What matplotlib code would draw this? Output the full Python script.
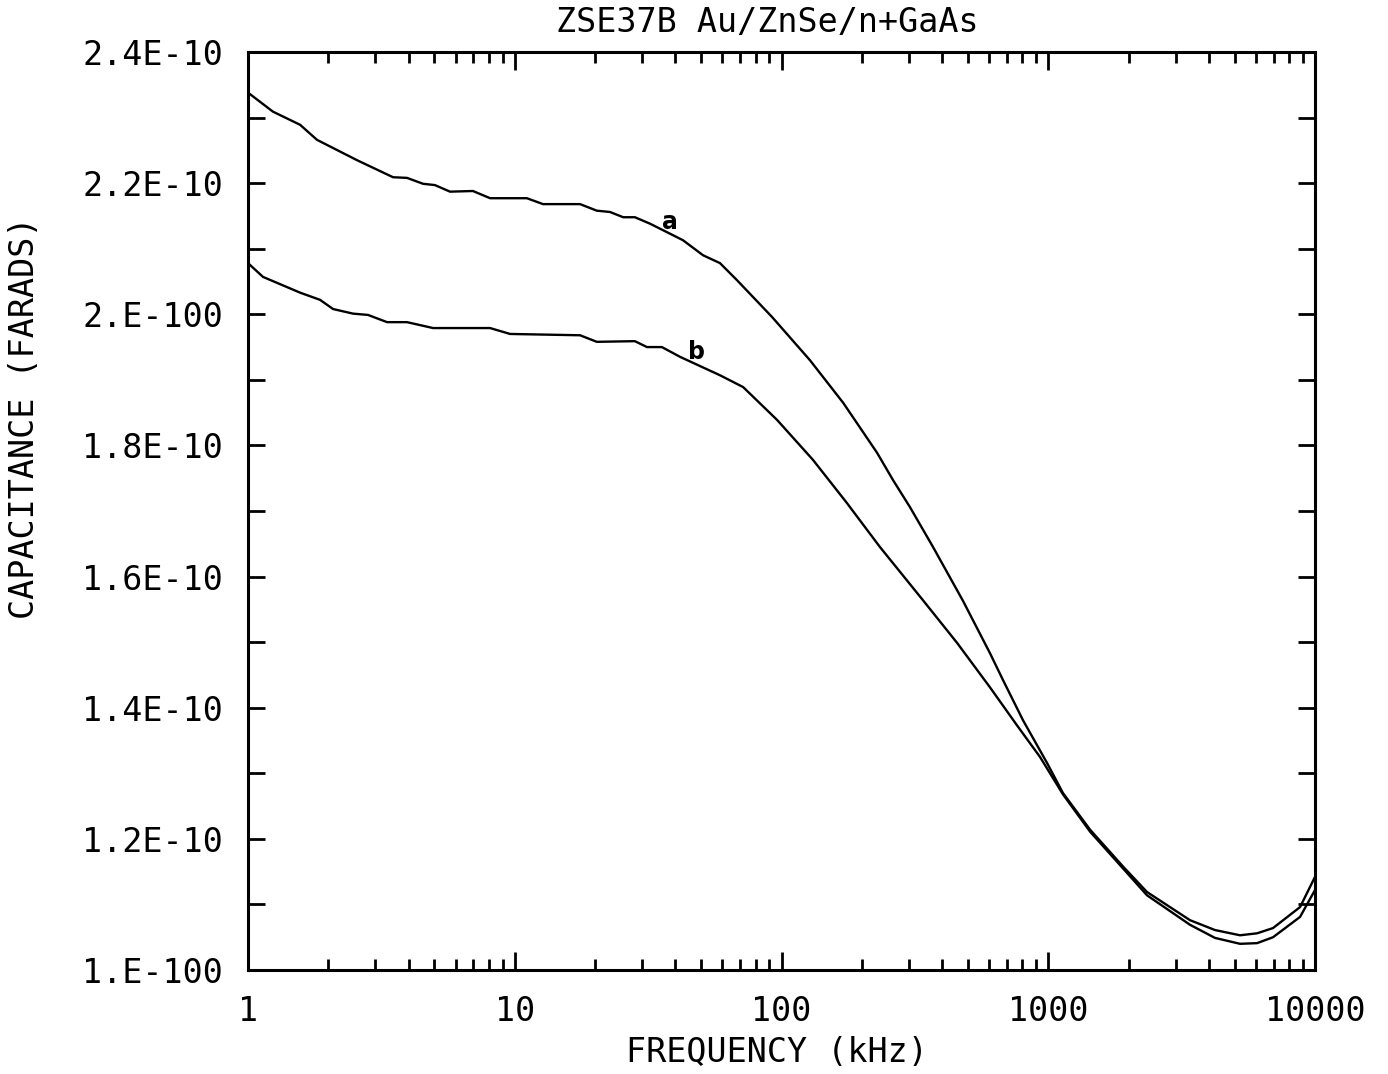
import numpy as np
import matplotlib
matplotlib.use('Agg')
import matplotlib.pyplot as plt
from matplotlib.ticker import FixedLocator, FixedFormatter, LogLocator, NullFormatter

# Curve a (kHz, capacitance in units of 1e-10 F)
freq_a = [1.0, 1.24, 1.567, 1.814, 2.562, 3.497, 3.945, 4.53, 5.02, 5.72, 6.97, 8.08,
          11.1, 12.76, 17.57, 20.3, 22.75, 25.5, 28.2, 32.2, 42.7, 50.8, 58.8, 68.1,
          92.1, 127.8, 170.3, 228, 262, 303, 370, 479, 605, 677, 804, 989, 1135, 1435,
          1906, 2345, 3400, 4217, 5235, 6064, 6960, 8790, 10000]
cap_a = [2.338, 2.309, 2.289, 2.266, 2.235, 2.209, 2.208, 2.199, 2.197, 2.187, 2.188, 2.177,
         2.177, 2.168, 2.168, 2.158, 2.156, 2.148, 2.148, 2.138, 2.113, 2.090, 2.078, 2.052,
         1.996, 1.930, 1.865, 1.789, 1.747, 1.706, 1.645, 1.563, 1.483, 1.442, 1.381, 1.316,
         1.270, 1.214, 1.158, 1.119, 1.076, 1.061, 1.053, 1.056, 1.064, 1.096, 1.142]

# Curve b
freq_b = [1.0, 1.138, 1.567, 1.862, 2.084, 2.475, 2.818, 3.32, 3.945, 4.94, 8.08, 9.6,
          17.57, 20.3, 28.2, 31.3, 35.6, 41.7, 58.8, 71.8, 96.2, 131.2, 176, 234, 339,
          455, 605, 764, 931, 1135, 1435, 1906, 2345, 3400, 4217, 5235, 6064, 6960, 8790,
          10000]
cap_b = [2.078, 2.057, 2.033, 2.022, 2.008, 2.001, 1.999, 1.988, 1.988, 1.979, 1.979, 1.970,
         1.968, 1.958, 1.959, 1.950, 1.950, 1.935, 1.907, 1.889, 1.839, 1.778, 1.712, 1.645,
         1.564, 1.499, 1.431, 1.373, 1.325, 1.268, 1.211, 1.155, 1.114, 1.069, 1.049, 1.040,
         1.041, 1.050, 1.081, 1.122]

x_ticks = [1, 10, 100, 1000, 10000]
x_ticklabels = ["1", "10", "100", "1000", "10000"]
y_ticks = [1.0, 1.2, 1.4, 1.6, 1.8, 2.0, 2.2, 2.4]
y_ticklabels = ["1.E-100", "1.2E-10", "1.4E-10", "1.6E-10", "1.8E-10", "2.E-100", "2.2E-10", "2.4E-10"]

mono = ['DejaVu Sans Mono']
fs = 24

fig = plt.figure(figsize=(13.88, 10.74), dpi=100)
ax = fig.add_axes([0.1787, 0.0968, 0.7687, 0.8548])

scale = 1e-10
ax.plot(freq_a, np.array(cap_a) * scale, color='black', lw=1.7)
ax.plot(freq_b, np.array(cap_b) * scale, color='black', lw=1.7)

ax.set_xscale('log')
ax.set_xlim(1, 10000)
ax.set_ylim(1.0e-10, 2.4e-10)

ax.xaxis.set_major_locator(FixedLocator(x_ticks))
ax.xaxis.set_major_formatter(FixedFormatter(x_ticklabels))
ax.xaxis.set_minor_locator(LogLocator(base=10, subs=np.arange(2, 10)))
ax.xaxis.set_minor_formatter(NullFormatter())

ax.yaxis.set_major_locator(FixedLocator([v * scale for v in y_ticks]))
ax.yaxis.set_major_formatter(FixedFormatter(y_ticklabels))
ax.yaxis.set_minor_locator(FixedLocator([v * scale for v in np.arange(1.1, 2.4, 0.2)]))
ax.yaxis.set_minor_formatter(NullFormatter())

ax.tick_params(axis='both', which='both', direction='in', top=True, right=True,
               color='black', width=2)
ax.tick_params(axis='x', which='major', length=13, pad=18)
ax.tick_params(axis='x', which='minor', length=8)
ax.tick_params(axis='y', which='both', length=12, pad=18)

for lab in ax.get_xticklabels() + ax.get_yticklabels():
    lab.set_family(mono)
    lab.set_fontsize(fs)

for sp in ax.spines.values():
    sp.set_linewidth(2.2)

# curve labels
ax.text(38.2, 2.141 * scale, "a", fontsize=17, fontweight='bold',
        family=['Liberation Sans Narrow', 'DejaVu Sans'], ha='center', va='center')
ax.text(48.2, 1.9425 * scale, "b", fontsize=17, fontweight='bold',
        family=['Liberation Sans Narrow', 'DejaVu Sans'], ha='center', va='center')

fig.text(0.553, 0.979, "ZSE37B Au/ZnSe/n+GaAs", family=mono, fontsize=fs,
         ha='center', va='center')
fig.text(0.560, 0.020, "FREQUENCY (kHz)", family=mono, fontsize=fs,
         ha='center', va='center')
fig.text(0.018, 0.611, "CAPACITANCE (FARADS)", family=mono, fontsize=fs,
         ha='center', va='center', rotation=90)

fig.savefig('out.png', dpi=100)
